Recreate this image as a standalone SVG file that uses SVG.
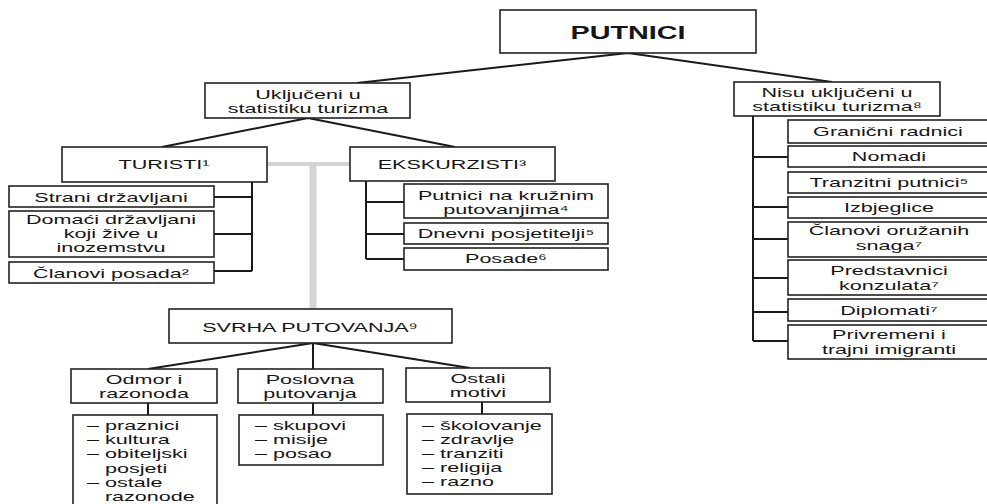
<svg xmlns="http://www.w3.org/2000/svg" width="987" height="504" viewBox="0 0 987 504">
<style>
.bx{fill:#fff;stroke:#222;stroke-width:1.6}
.t{font-family:"Liberation Sans",Arial,sans-serif;font-size:13px;fill:#151515;text-anchor:middle}
.l{text-anchor:start}
.b{font-weight:bold;font-size:18px}
.ln{stroke:#1a1a1a;stroke-width:2;fill:none}
.gr{stroke:#d4d4d4;fill:none}
</style>
<rect width="987" height="504" fill="#fff"/>
<g id="connectors">
<path class="ln" d="M628 53L357 83M628 53L832 82"/>
<path class="ln" d="M308 118L162 147M308 118L455 147"/>
<path class="gr" stroke-width="4" d="M267 164H350"/>
<path class="gr" stroke-width="7" d="M313 164V309"/>
<path class="ln" d="M252 182V271M214 197H252M214 234H252M214 271H252"/>
<path class="ln" d="M366 181V259M366 202H404M366 234H404M366 259H404"/>
<path class="ln" d="M753 116V341M753 157H788M753 207H788M753 239H788M753 278H788M753 312H788M753 341H788"/>
<path class="ln" d="M313 343L148 369M313 343V369M313 343L470 368"/>
<path class="ln" d="M148 403V415M313 403V415M482 402V414"/>
</g>
<g id="putnici"><rect class="bx" x="500" y="10" width="256" height="43"/><text class="t b" transform="translate(628 0) scale(1.6 1)" y="39">PUTNICI</text></g>
<g id="ukljuceni"><rect class="bx" x="205" y="83" width="205" height="35"/><text class="t" transform="translate(308 0) scale(1.66 1)"><tspan x="0" y="99">Uključeni u</tspan><tspan x="0" y="113">statistiku turizma</tspan></text></g>
<g id="nisu"><rect class="bx" x="734" y="82" width="206" height="34"/><text class="t" transform="translate(837 0) scale(1.66 1)"><tspan x="0" y="97">Nisu uključeni u</tspan><tspan x="0" y="111">statistiku turizma⁸</tspan></text></g>
<g id="turisti"><rect class="bx" x="62" y="147" width="205" height="35"/><text class="t" transform="translate(164 0) scale(1.66 1)" y="169">TURISTI¹</text></g>
<g id="ekskurzisti"><rect class="bx" x="350" y="147" width="205" height="34"/><text class="t" transform="translate(452 0) scale(1.66 1)" y="169">EKSKURZISTI³</text></g>
<g id="strani"><rect class="bx" x="9" y="186" width="205" height="21"/><text class="t" transform="translate(111 0) scale(1.66 1)" y="202">Strani državljani</text></g>
<g id="domaci"><rect class="bx" x="9" y="211" width="205" height="46"/><text class="t" transform="translate(111 0) scale(1.66 1)"><tspan x="0" y="224">Domaći državljani</tspan><tspan x="0" y="238">koji žive u</tspan><tspan x="0" y="252">inozemstvu</tspan></text></g>
<g id="clanovi-posada"><rect class="bx" x="9" y="262" width="205" height="21"/><text class="t" transform="translate(111 0) scale(1.66 1)" y="278">Članovi posada²</text></g>
<g id="putnici-kruzni"><rect class="bx" x="404" y="184" width="204" height="34"/><text class="t" transform="translate(506 0) scale(1.66 1)"><tspan x="0" y="200">Putnici na kružnim</tspan><tspan x="0" y="214">putovanjima⁴</tspan></text></g>
<g id="dnevni"><rect class="bx" x="404" y="223" width="204" height="21"/><text class="t" transform="translate(506 0) scale(1.66 1)" y="238">Dnevni posjetitelji⁵</text></g>
<g id="posade"><rect class="bx" x="404" y="248" width="204" height="22"/><text class="t" transform="translate(506 0) scale(1.66 1)" y="263">Posade⁶</text></g>
<g id="granicni"><rect class="bx" x="788" y="120" width="210" height="23"/><text class="t" transform="translate(888 0) scale(1.66 1)" y="136">Granični radnici</text></g>
<g id="nomadi"><rect class="bx" x="788" y="146" width="210" height="21"/><text class="t" transform="translate(889 0) scale(1.66 1)" y="161">Nomadi</text></g>
<g id="tranzitni"><rect class="bx" x="788" y="172" width="210" height="21"/><text class="t" transform="translate(889 0) scale(1.66 1)" y="187">Tranzitni putnici⁵</text></g>
<g id="izbjeglice"><rect class="bx" x="788" y="197" width="210" height="21"/><text class="t" transform="translate(889 0) scale(1.66 1)" y="212">Izbjeglice</text></g>
<g id="oruzane"><rect class="bx" x="788" y="222" width="210" height="35"/><text class="t" transform="translate(889 0) scale(1.66 1)"><tspan x="0" y="235">Članovi oružanih</tspan><tspan x="0" y="250">snaga⁷</tspan></text></g>
<g id="konzulati"><rect class="bx" x="788" y="260" width="210" height="35"/><text class="t" transform="translate(889 0) scale(1.66 1)"><tspan x="0" y="275">Predstavnici</tspan><tspan x="0" y="290">konzulata⁷</tspan></text></g>
<g id="diplomati"><rect class="bx" x="788" y="299" width="210" height="22"/><text class="t" transform="translate(889 0) scale(1.66 1)" y="315">Diplomati⁷</text></g>
<g id="imigranti"><rect class="bx" x="788" y="325" width="210" height="34"/><text class="t" transform="translate(889 0) scale(1.66 1)"><tspan x="0" y="339">Privremeni i</tspan><tspan x="0" y="354">trajni imigranti</tspan></text></g>
<g id="svrha"><rect class="bx" x="169" y="309" width="283" height="34"/><text class="t" transform="translate(310 0) scale(1.66 1)" y="332">SVRHA PUTOVANJA⁹</text></g>
<g id="odmor"><rect class="bx" x="71" y="369" width="146" height="34"/><text class="t" transform="translate(144 0) scale(1.66 1)"><tspan x="0" y="384">Odmor i</tspan><tspan x="0" y="398">razonoda</tspan></text></g>
<g id="poslovna"><rect class="bx" x="238" y="369" width="145" height="34"/><text class="t" transform="translate(310 0) scale(1.66 1)"><tspan x="0" y="384">Poslovna</tspan><tspan x="0" y="398">putovanja</tspan></text></g>
<g id="ostali"><rect class="bx" x="406" y="368" width="144" height="34"/><text class="t" transform="translate(478 0) scale(1.66 1)"><tspan x="0" y="383">Ostali</tspan><tspan x="0" y="397">motivi</tspan></text></g>
<g id="odmor-lista"><rect class="bx" x="73" y="415" width="144" height="100"/><text class="t l" transform="translate(87 0) scale(1.66 1)"><tspan x="0" y="430">– praznici</tspan><tspan x="0" y="444">– kultura</tspan><tspan x="0" y="458">– obiteljski</tspan><tspan x="10.8" y="473">posjeti</tspan><tspan x="0" y="487">– ostale</tspan><tspan x="10.8" y="501">razonode</tspan></text></g>
<g id="poslovna-lista"><rect class="bx" x="239" y="415" width="144" height="50"/><text class="t l" transform="translate(255 0) scale(1.66 1)"><tspan x="0" y="430">– skupovi</tspan><tspan x="0" y="444">– misije</tspan><tspan x="0" y="458">– posao</tspan></text></g>
<g id="ostali-lista"><rect class="bx" x="407" y="414" width="145" height="80"/><text class="t l" transform="translate(422 0) scale(1.66 1)"><tspan x="0" y="430">– školovanje</tspan><tspan x="0" y="444">– zdravlje</tspan><tspan x="0" y="458">– tranziti</tspan><tspan x="0" y="472">– religija</tspan><tspan x="0" y="486">– razno</tspan></text></g>
</svg>
